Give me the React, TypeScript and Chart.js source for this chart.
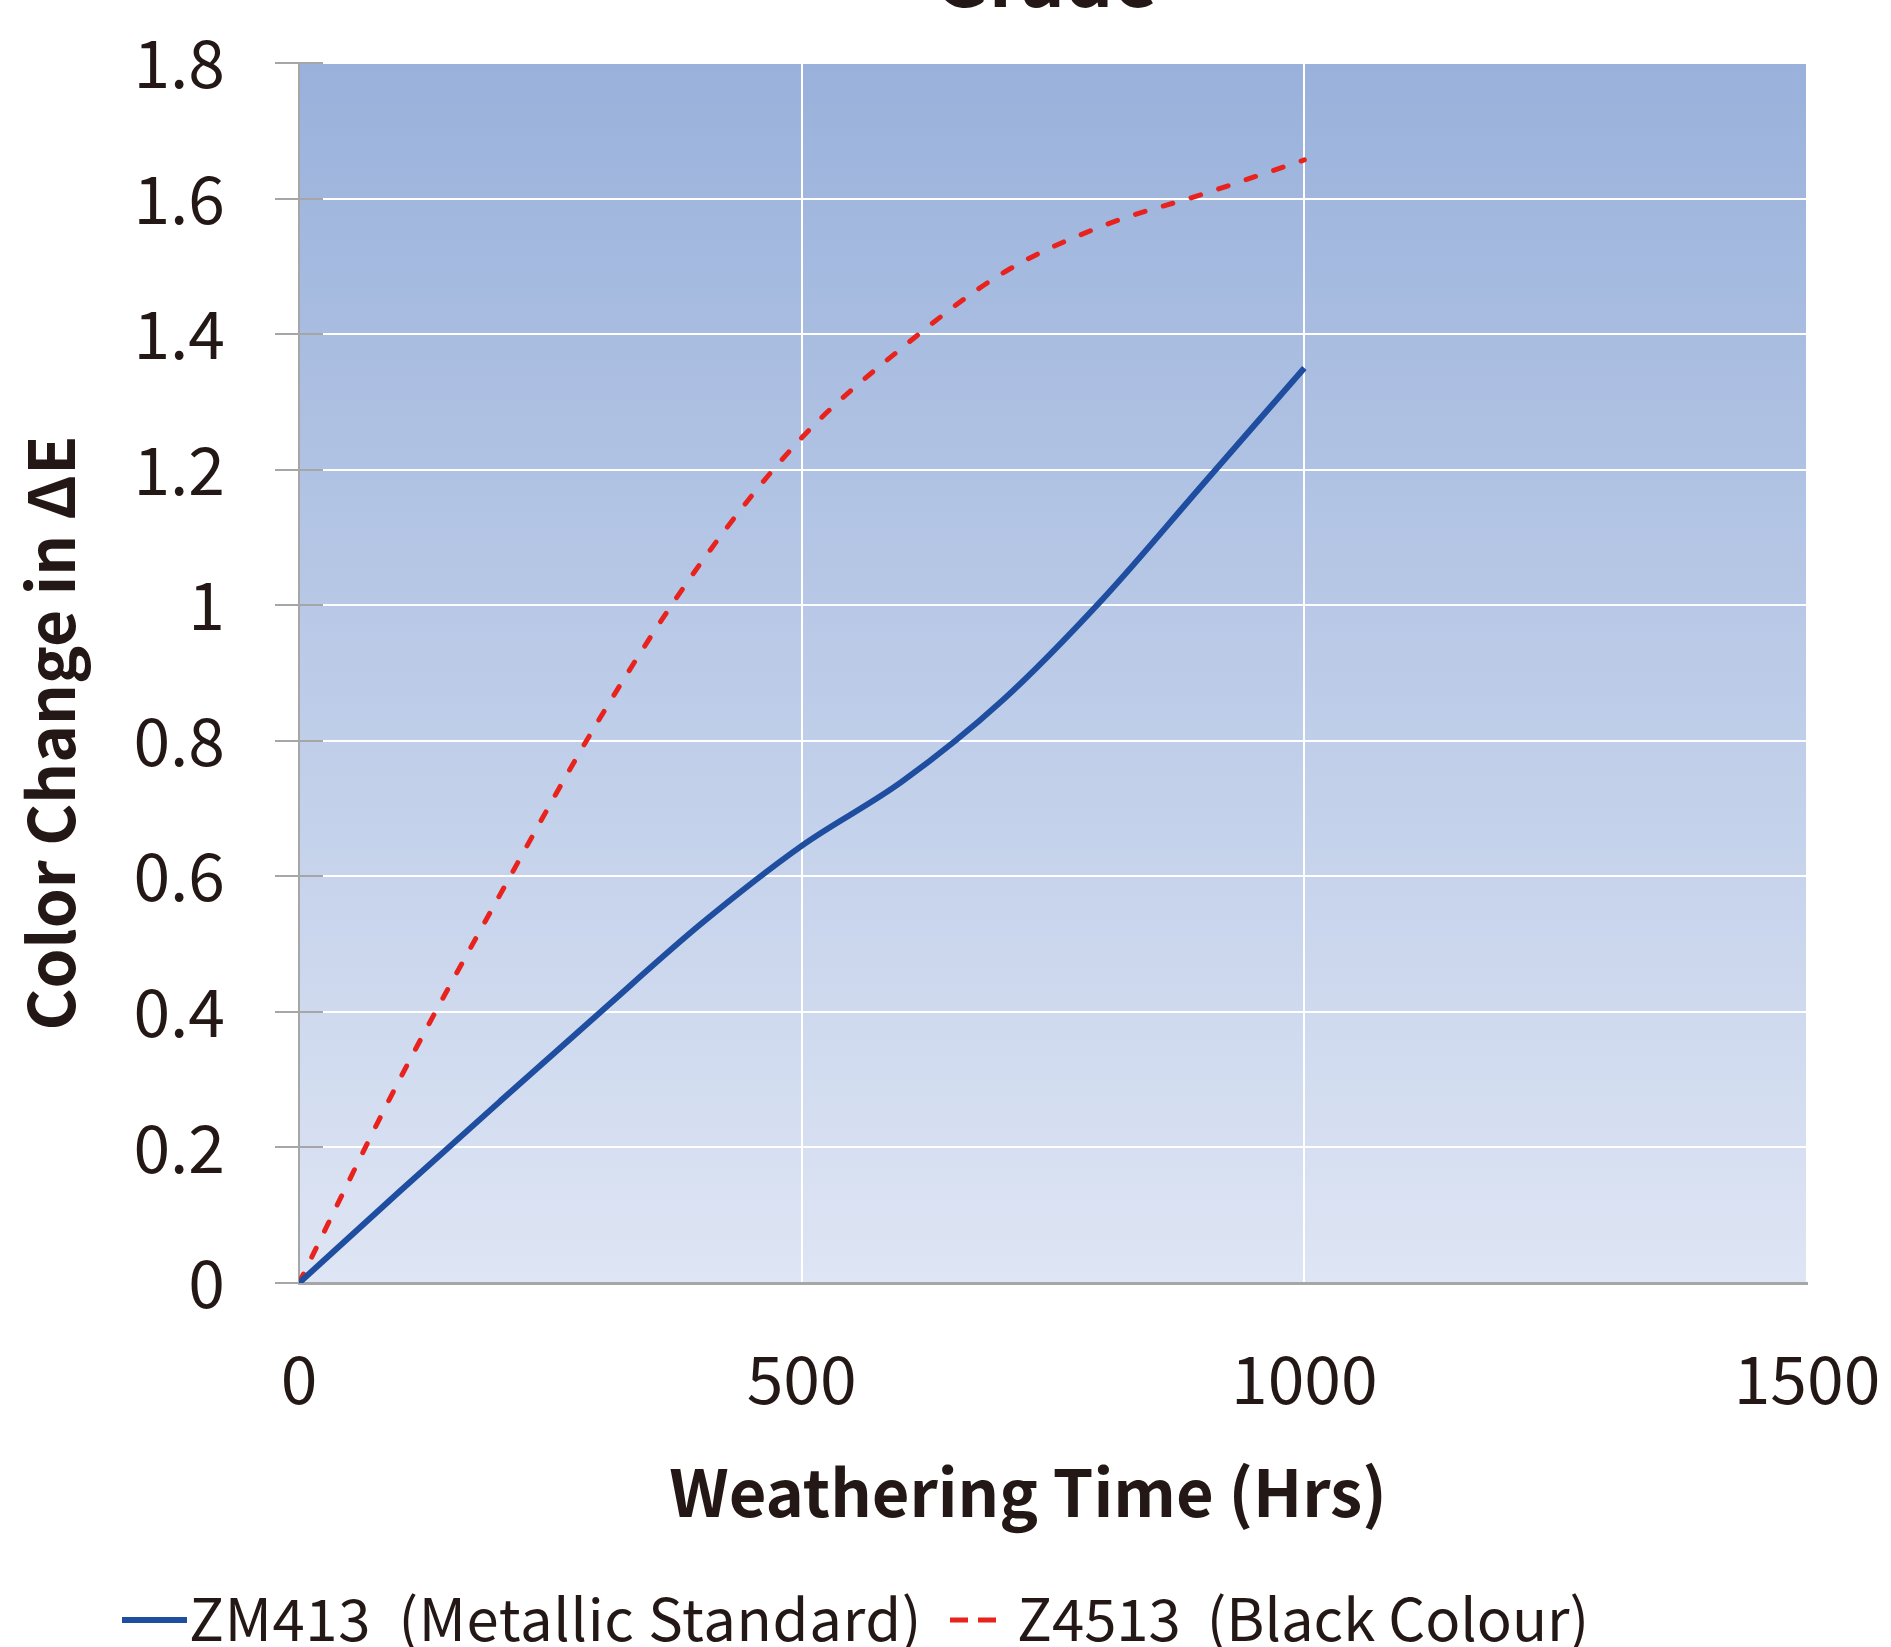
import React, { useEffect, useRef } from "react";
import { Chart, registerables } from "chart.js";

Chart.register(...registerables);

// ---- data ----
const hours = [0, 100, 200, 300, 400, 500, 600, 700, 800, 900, 1000];
const zm413 = [0, 0.135, 0.268, 0.4, 0.53, 0.645, 0.74, 0.86, 1.01, 1.18, 1.35];
const z4513 = [0, 0.3, 0.573, 0.835, 1.063, 1.247, 1.38, 1.49, 1.56, 1.607, 1.657];
const seriesNames = ["ZM413  (Metallic Standard)", "Z4513  (Black Colour)"];
const xTickValues = [0, 500, 1000, 1500];
const yTickValues = [0, 0.2, 0.4, 0.6, 0.8, 1, 1.2, 1.4, 1.6, 1.8];
const chartTitle = "Grade";
const xAxisTitle = "Weathering Time (Hrs)";
const yAxisTitle = "Color Change in ΔE";

const W = 1891;
const H = 1647;
const FONT = "'Noto Sans CJK SC', 'Noto Sans', sans-serif";
const TEXT = "#231815";
const BLUE = "#1F4EA0";
const RED = "#E8231E";
const GRAY = "#A6A6A6";

const decorPlugin = {
  id: "decor",
  beforeDraw(chart: any) {
    const { ctx, chartArea } = chart;
    ctx.save();
    ctx.fillStyle = "#ffffff";
    ctx.fillRect(0, 0, chart.width, chart.height);
    const g = ctx.createLinearGradient(0, chartArea.top, 0, chartArea.bottom);
    g.addColorStop(0, "#99B1DB");
    g.addColorStop(1, "#DEE5F4");
    ctx.fillStyle = g;
    ctx.fillRect(chartArea.left, chartArea.top, chartArea.right - chartArea.left, chartArea.bottom - chartArea.top);
    ctx.restore();
  },
  beforeDatasetsDraw(chart: any) {
    const { ctx, chartArea, scales } = chart;
    ctx.save();
    ctx.strokeStyle = GRAY;
    ctx.lineWidth = 2;
    yTickValues.forEach((v) => {
      const y = Math.round(scales.y.getPixelForValue(v));
      ctx.beginPath();
      ctx.moveTo(chartArea.left - 24, y);
      ctx.lineTo(chartArea.left + 24, y);
      ctx.stroke();
    });
    ctx.restore();
  },
  afterDraw(chart: any) {
    const { ctx } = chart;
    ctx.save();
    ctx.fillStyle = TEXT;
    // title (cut by top edge)
    ctx.font = `bold 76px ${FONT}`;
    ctx.textAlign = "center";
    ctx.textBaseline = "alphabetic";
    ctx.fillText(chartTitle, 1046, 7);
    // x axis title
    ctx.font = `bold 65px ${FONT}`;
    ctx.fillText(xAxisTitle, 1028, 1517);
    // y axis title
    ctx.save();
    ctx.font = `bold 64px ${FONT}`;
    ctx.translate(75, 733);
    ctx.rotate(-Math.PI / 2);
    ctx.fillText(yAxisTitle, 0, 0);
    ctx.restore();
    // legend
    ctx.font = `58px ${FONT}`;
    ctx.textAlign = "left";
    ctx.save();
    (ctx as any).letterSpacing = "0.7px";
    ctx.fillText(seriesNames[0], 189, 1641);
    ctx.restore();
    ctx.fillText(seriesNames[1], 1017, 1641);
    ctx.lineCap = "butt";
    ctx.strokeStyle = BLUE;
    ctx.lineWidth = 6;
    ctx.beginPath();
    ctx.moveTo(122, 1620);
    ctx.lineTo(187, 1620);
    ctx.stroke();
    ctx.strokeStyle = RED;
    ctx.lineWidth = 5;
    ctx.setLineDash([18, 10]);
    ctx.beginPath();
    ctx.moveTo(950, 1620);
    ctx.lineTo(996, 1620);
    ctx.stroke();
    ctx.restore();
  },
};

const plain = (v: any) => String(Math.round(Number(v) * 10) / 10);

export default function App() {
  const ref = useRef<HTMLCanvasElement | null>(null);
  useEffect(() => {
    if (!ref.current) return;
    const chart = new Chart(ref.current, {
      type: "line",
      data: {
        datasets: [
          {
            label: seriesNames[0],
            data: hours.map((h, i) => ({ x: h, y: zm413[i] })),
            borderColor: BLUE,
            borderWidth: 6,
            pointRadius: 0,
            cubicInterpolationMode: "monotone",
            fill: false,
          },
          {
            label: seriesNames[1],
            data: hours.map((h, i) => ({ x: h, y: z4513[i] })),
            borderColor: RED,
            borderWidth: 5,
            borderDash: [10, 19],
            borderCapStyle: "round",
            pointRadius: 0,
            cubicInterpolationMode: "monotone",
            fill: false,
          },
        ],
      },
      options: {
        responsive: false,
        animation: false,
        devicePixelRatio: 1,
        layout: { padding: { left: 0, top: 63, right: 84, bottom: 0 } },
        plugins: {
          legend: { display: false },
          title: { display: false },
          tooltip: { enabled: false },
        },
        scales: {
          x: {
            type: "linear",
            min: 0,
            max: 1500,
            afterBuildTicks: (s: any) => {
              s.ticks = xTickValues.map((v) => ({ value: v }));
            },
            afterFit: (s: any) => {
              s.height = H - 1283;
              s.paddingLeft = 0;
              s.paddingRight = 0;
              s.paddingTop = 0;
              s.paddingBottom = 0;
            },
            grid: { color: "#ffffff", lineWidth: 2, drawTicks: false },
            border: { display: true, color: GRAY, width: 3 },
            ticks: {
              color: TEXT,
              font: { family: FONT, size: 66 },
              padding: 56,
              maxRotation: 0,
              callback: plain,
            },
          },
          y: {
            type: "linear",
            min: 0,
            max: 1.8,
            afterBuildTicks: (s: any) => {
              s.ticks = yTickValues.map((v) => ({ value: v }));
            },
            afterFit: (s: any) => {
              s.width = 299;
              s.paddingLeft = 0;
              s.paddingRight = 0;
              s.paddingTop = 0;
              s.paddingBottom = 0;
            },
            grid: { color: "#ffffff", lineWidth: 2, drawTicks: false },
            border: { display: true, color: GRAY, width: 2 },
            ticks: {
              color: TEXT,
              font: { family: FONT, size: 66 },
              padding: 74,
              callback: plain,
            },
          },
        },
      },
      plugins: [decorPlugin],
    } as any);
    return () => chart.destroy();
  }, []);
  return (
    <div style={{ position: "absolute", left: 0, top: 0, width: W, height: H }}>
      <canvas ref={ref} width={W} height={H} style={{ width: W, height: H, display: "block" }} />
    </div>
  );
}
